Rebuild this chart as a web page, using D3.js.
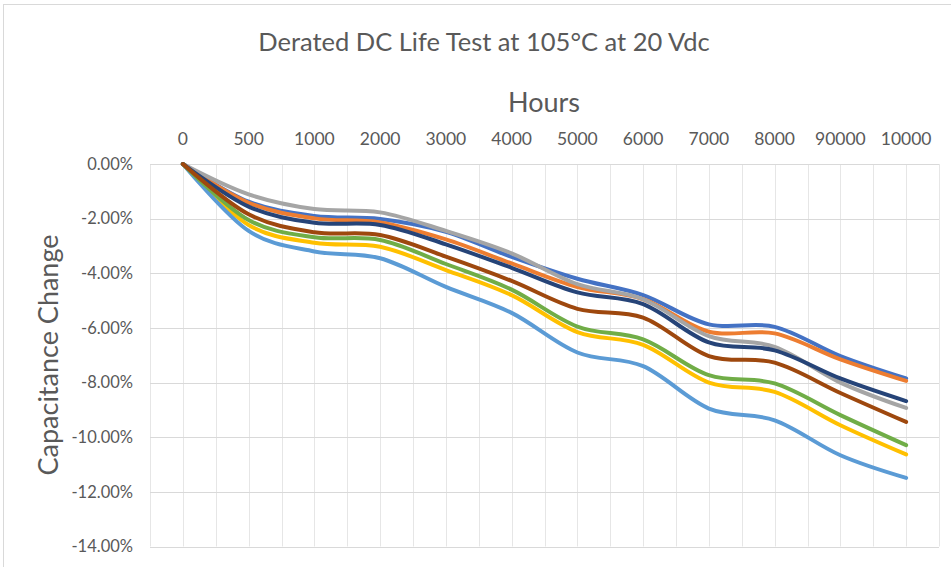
<!DOCTYPE html>
<html>
<head>
<meta charset="utf-8">
<script src="https://cdn.jsdelivr.net/npm/d3@7"></script>
<style>
  body { margin: 0; background: #fff; }
  text { font-family: Lato, "Open Sans", sans-serif; fill: #595959; }
</style>
</head>
<body>
<div id="chart"></div>
<script>
// hours (category labels, as printed on the sheet)
var hours = ["0", "500", "1000", "2000", "3000", "4000", "5000", "6000", "7000", "8000", "90000", "10000"];

// capacitance change in %, one array per sample
var s1 = [0, -1.38, -1.90, -2.01, -2.48, -3.40, -4.20, -4.80, -5.87, -5.96, -7.03, -7.85];
var s2 = [0, -1.42, -1.99, -2.14, -2.76, -3.64, -4.50, -4.95, -6.14, -6.20, -7.15, -7.94];
var s3 = [0, -1.11, -1.65, -1.77, -2.45, -3.27, -4.40, -4.95, -6.30, -6.69, -8.00, -8.93];
var s4 = [0, -2.23, -2.88, -3.03, -3.88, -4.80, -6.15, -6.62, -8.00, -8.34, -9.56, -10.63];
var s5 = [0, -2.45, -3.20, -3.45, -4.50, -5.45, -6.90, -7.40, -8.95, -9.38, -10.66, -11.49];
var s6 = [0, -2.05, -2.68, -2.78, -3.66, -4.60, -5.95, -6.42, -7.73, -8.03, -9.19, -10.29];
var s7 = [0, -1.56, -2.15, -2.23, -2.94, -3.80, -4.70, -5.13, -6.53, -6.82, -7.85, -8.68];
var s8 = [0, -1.84, -2.50, -2.60, -3.39, -4.28, -5.30, -5.62, -7.03, -7.27, -8.38, -9.44];

var yTicks = [0, -2, -4, -6, -8, -10, -12, -14];

var series = [s1, s2, s3, s4, s5, s6, s7, s8];
var colors = ["#4472C4", "#ED7D31", "#A5A5A5", "#FFC000", "#5B9BD5", "#70AD47", "#264478", "#9E480E"];

var W = 951, H = 567,
    plot = {left: 150, right: 939, top: 164, bottom: 546.5};

var svg = d3.select("#chart").append("svg")
    .attr("width", W)
    .attr("height", H);

// chart border
svg.append("rect")
    .attr("x", 3.5).attr("y", 4.5)
    .attr("width", W + 10).attr("height", H + 10)
    .attr("fill", "none")
    .attr("stroke", "#D9D9D9");

var x = d3.scaleBand().domain(hours).range([plot.left, plot.right]).paddingInner(0).paddingOuter(0);
var y = d3.scaleLinear().domain([-14, 0]).range([plot.bottom, plot.top]);
var bw = x.bandwidth();
function cx(c) { return x(c) + bw / 2; }

// vertical gridlines, at category edges and centres
var vlines = [];
hours.forEach(function(c) { vlines.push(x(c), cx(c)); });
vlines.push(plot.right);

svg.append("g").selectAll("line")
    .data(vlines)
  .enter().append("line")
    .attr("x1", function(d) { return Math.round(d) + 0.5; })
    .attr("x2", function(d) { return Math.round(d) + 0.5; })
    .attr("y1", plot.top)
    .attr("y2", plot.bottom)
    .attr("stroke", "#E6E6E6");

svg.append("g").selectAll("line")
    .data(yTicks)
  .enter().append("line")
    .attr("x1", plot.left)
    .attr("x2", plot.right)
    .attr("y1", function(d) { return Math.round(y(d)) + 0.5; })
    .attr("y2", function(d) { return Math.round(y(d)) + 0.5; })
    .attr("stroke", "#D9D9D9");

// axes
var xAxis = d3.axisTop(x).tickSize(0).tickPadding(0);
var gx = svg.append("g")
    .attr("transform", "translate(0,145)")
    .call(xAxis);
gx.select(".domain").remove();
gx.selectAll("text").style("font-size", "17.5px").attr("fill", "#595959").attr("font-family", null);

var yAxis = d3.axisLeft(y).tickValues(yTicks).tickSize(0).tickPadding(0)
    .tickFormat(function(d) { return d.toFixed(2) + "%"; });
var gy = svg.append("g")
    .attr("transform", "translate(133,0)")
    .call(yAxis);
gy.select(".domain").remove();
gy.selectAll("text").style("font-size", "16.5px").attr("fill", "#595959").attr("font-family", null);

// lines
var line = d3.line()
    .curve(d3.curveCardinal.tension(0))
    .x(function(d, i) { return cx(hours[i]); })
    .y(function(d) { return y(d); });

svg.append("g").selectAll("path")
    .data(series)
  .enter().append("path")
    .attr("d", line)
    .attr("fill", "none")
    .attr("stroke", function(d, i) { return colors[i]; })
    .attr("stroke-width", 4)
    .attr("stroke-linecap", "round")
    .attr("stroke-linejoin", "round");

// titles
svg.append("text")
    .attr("x", 484).attr("y", 51)
    .attr("text-anchor", "middle")
    .style("font-size", "25.5px")
    .text("Derated DC Life Test at 105°C at 20 Vdc");

svg.append("text")
    .attr("x", 544).attr("y", 112)
    .attr("text-anchor", "middle")
    .style("font-size", "27px")
    .text("Hours");

svg.append("text")
    .attr("transform", "translate(58,355) rotate(-90)")
    .attr("text-anchor", "middle")
    .style("font-size", "27px")
    .text("Capacitance Change");
</script>
</body>
</html>
